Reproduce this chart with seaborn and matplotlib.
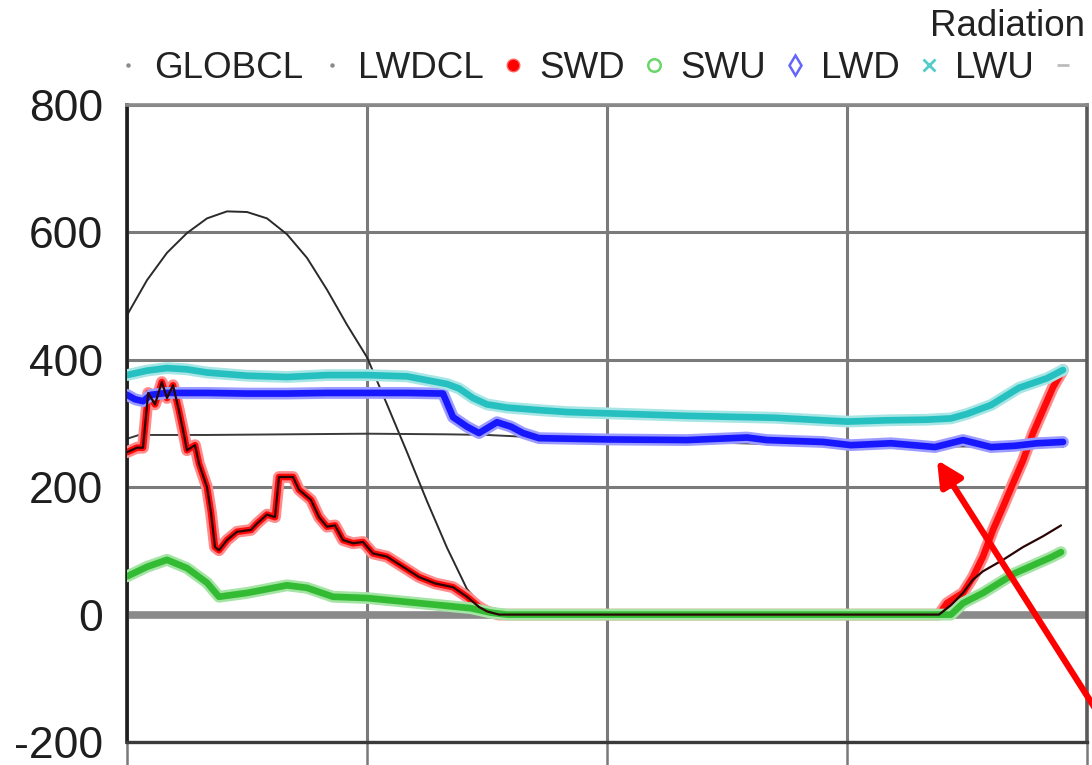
import matplotlib
matplotlib.use("Agg")
import matplotlib.pyplot as plt
from matplotlib.lines import Line2D
import seaborn as sns

# ---------------- data (hour of day, W/m2) ----------------
GLOBCL_H = [0, 0.5, 1, 1.5, 2, 2.5, 3, 3.5, 4, 4.5, 5, 5.5, 6, 6.5, 7, 7.5, 8, 8.5, 9, 9.3,
            20.25, 20.5, 21, 21.5, 22, 22.5, 23, 23.4]
GLOBCL_V = [470, 525, 568, 599, 622, 633, 632, 622, 597, 560, 510, 455, 404, 330, 255, 178, 105, 40, 5, 0,
            0, 15, 40, 105, 180, 260, 335, 387]

LWDCL_H = [0, 0.3, 1, 2, 4, 6, 8, 9, 10, 12, 14, 16, 18, 20, 22, 23.4]
LWDCL_V = [276, 282, 282, 282, 283, 284, 283, 282, 279, 275, 271, 268, 265, 264, 264, 263]

SWD_MORNING_H = [0, 0.25, 0.4, 0.53, 0.7, 0.87, 1.0, 1.15, 1.3, 1.4, 1.5, 1.7, 1.8, 2.0, 2.1, 2.2, 2.3,
                 2.5, 2.75, 3.1, 3.25, 3.5, 3.7, 3.8, 4.15, 4.3, 4.6, 4.8, 5.0, 5.2, 5.4, 5.65, 5.9,
                 6.15, 6.5, 6.9, 7.3, 7.7, 8.15, 8.5, 8.8, 9.0, 9.3]
SWD_MORNING_V = [255, 262, 262, 348, 330, 365, 340, 360, 320, 290, 258, 266, 237, 200, 160, 106, 101,
                 117, 130, 133, 143, 157, 153, 216, 216, 196, 180, 153, 138, 140, 117, 112, 114,
                 96, 91, 75, 59, 49, 43, 28, 12, 5, 0]
SWD_EVENING_H = [20.3, 20.5, 20.9, 21.15, 21.4, 21.65, 21.9, 22.15, 22.4, 22.65, 22.9, 23.15, 23.4]
SWD_EVENING_V = [0, 18, 34, 59, 91, 133, 169, 206, 242, 285, 321, 357, 384]

DARK_EVENING_H = [20.3, 20.6, 20.9, 21.15, 21.4, 21.9, 22.4, 22.9, 23.35]
DARK_EVENING_V = [0, 15, 34, 55, 68, 86, 106, 123, 140]

SWU_H = [0, 0.5, 1, 1.5, 2, 2.3, 3, 4, 4.5, 5.15, 6, 7.3, 8.6, 9.1, 9.5,
         20.6, 20.9, 21.4, 22.2, 23.1, 23.35]
SWU_V = [60, 75, 86, 73, 50, 28, 34, 46, 42, 28, 26, 18, 10, 3, 0,
         0, 18, 34, 65, 90, 98]

LWD_H = [0, 0.2, 0.4, 0.6, 1, 2, 3, 4, 5, 6, 7, 7.9, 8.15, 8.5, 8.8, 9.25, 9.6, 9.9, 10.3,
         12, 14, 15.5, 16, 17.4, 18.1, 19.1, 20.2, 20.9, 21.6, 22.2, 22.75, 23.4]
LWD_V = [345, 338, 335, 345, 348, 348, 347, 347, 348, 348, 348, 347, 310, 295, 285, 302, 295, 285, 277,
         275, 274, 278, 274, 271, 266, 269, 263, 274, 263, 265, 269, 271]

LWU_H = [0, 0.5, 1, 1.5, 2, 3, 4, 5, 6, 7, 7.5, 8, 8.3, 8.65, 9, 9.5, 10.3, 11, 12, 14, 16.2,
         18, 19, 20, 20.6, 21, 21.6, 22.3, 23, 23.4]
LWU_V = [376, 383, 387, 385, 380, 375, 373, 376, 376, 374, 368, 362, 355, 340, 330, 325, 321, 318, 316,
         312, 309, 303, 305, 306, 308, 315, 329, 356, 371, 384]

LEGEND_LABELS = ["GLOBCL", "LWDCL", "SWD", "SWU", "LWD", "LWU", " "]
Y_TICKS = [-200, 0, 200, 400, 600, 800]
X_TICKS = [0, 6, 12, 18, 24]

SWD_H = SWD_MORNING_H + SWD_EVENING_H
SWD_V = SWD_MORNING_V + SWD_EVENING_V
DARK_H = SWD_MORNING_H + DARK_EVENING_H
DARK_V = SWD_MORNING_V + DARK_EVENING_V

# ---------------- style ----------------
sns.set_style("white")
plt.rcParams["font.family"] = ["Liberation Sans", "DejaVu Sans"]

fig = plt.figure(figsize=(10.92, 7.65), dpi=100)
ax = fig.add_axes([127 / 1092, 23 / 765, 960 / 1092, 637 / 765])


def line(h, v, color, lw, z):
    sns.lineplot(x=h, y=v, ax=ax, color=color, linewidth=lw, zorder=z,
                 estimator=None, sort=False, legend=False,
                 solid_capstyle="round", solid_joinstyle="round")


def band(h, v, halo, core, z):
    line(h, v, halo, 8.5, z)
    line(h, v, core, 4.8, z + 0.05)


line(GLOBCL_H, GLOBCL_V, "#2a2a2a", 1.4, 2.0)
line(LWDCL_H, LWDCL_V, "#3a3a3a", 1.4, 2.1)
band(SWD_H, SWD_V, "#ff8c8c", "#ff0a0a", 3.0)
band(SWU_H, SWU_V, "#a4e4a4", "#34bb34", 3.2)
band(LWD_H, LWD_V, "#9c9cff", "#1818ff", 3.4)
band(LWU_H, LWU_V, "#a8e6e6", "#26c0c0", 3.6)
line(DARK_H, DARK_V, "#2a0505", 1.6, 4.0)

ax.axhline(0, color="#8a8a8a", lw=5.5, zorder=1.5)

ax.set_xlim(0, 24)
ax.set_ylim(-200, 800)
ax.set_xticks(X_TICKS)
ax.set_yticks(Y_TICKS)
ax.set_yticklabels([str(t) for t in Y_TICKS])
ax.grid(True, color="#7a7a7a", lw=2.2, zorder=1)
ax.set_axisbelow(True)
ax.tick_params(axis="y", length=0, pad=17, labelsize=32, labelcolor="#1e1e1e")
ax.tick_params(axis="x", length=22, width=1.8, color="#7a7a7a", direction="out",
               labelbottom=False, bottom=True)
ax.set_xlabel("")
ax.set_ylabel("")

for side, col, w in [("left", "#1e1e1e", 2.6), ("bottom", "#3a3a3a", 2.4),
                     ("top", "#8a8a8a", 2.6), ("right", "#5a5a5a", 2.6)]:
    ax.spines[side].set_visible(True)
    ax.spines[side].set_color(col)
    ax.spines[side].set_linewidth(w)

# ---------------- legend ----------------
handles = [
    Line2D([], [], ls="none", marker="o", ms=2.2, color="#8a8a8a"),
    Line2D([], [], ls="none", marker="o", ms=2.2, color="#8a8a8a"),
    Line2D([], [], ls="none", marker="o", ms=9, color="#ff0000", mec="#ff6060"),
    Line2D([], [], ls="none", marker="o", ms=9, mfc="none", mec="#6ad66a", mew=1.8),
    Line2D([], [], ls="none", marker="d", ms=10, mfc="none", mec="#6464ff", mew=1.8),
    Line2D([], [], ls="none", marker="x", ms=8.5, color="#55cccc", mew=2),
    Line2D([], [], ls="none", marker="_", ms=9, color="#bcbcbc", mew=2),
]
fig.legend(handles, LEGEND_LABELS, loc="center left",
           bbox_to_anchor=(117 / 1092, 1 - 68 / 765), ncol=7, frameon=False,
           fontsize=26.5, handlelength=0.6, handletextpad=0.4, columnspacing=0.5,
           borderpad=0, borderaxespad=0, labelcolor="#222222")

fig.text(1085 / 1092, 1 - 26 / 765, "Radiation", ha="right", va="center",
         fontsize=26.5, color="#222222")

# red pointer arrow
ax.annotate("", xy=(937, 765 - 460), xycoords="figure pixels",
            xytext=(1112, 765 - 735), textcoords="figure pixels",
            arrowprops=dict(arrowstyle="-|>", color="#ff0000", lw=4.5,
                            mutation_scale=38, shrinkA=0, shrinkB=0),
            annotation_clip=False, zorder=10)

fig.savefig("out.png", dpi=100)
